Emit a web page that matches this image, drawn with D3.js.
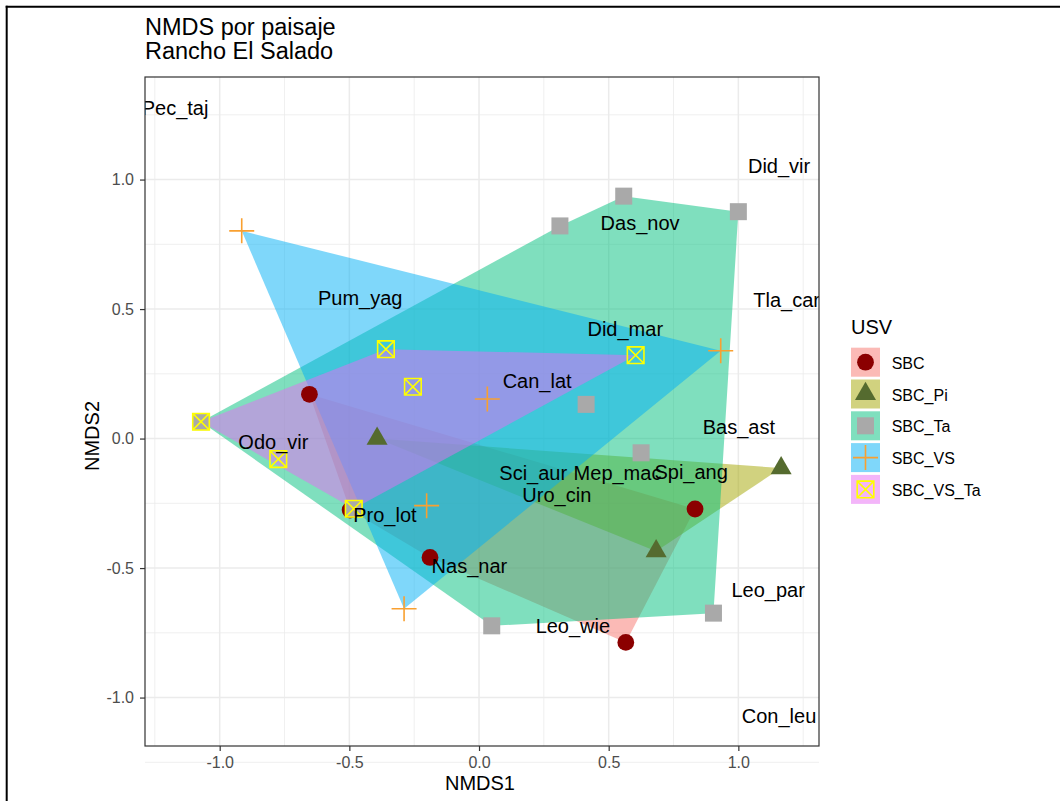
<!DOCTYPE html>
<html>
<head>
<meta charset="utf-8">
<script src="https://cdn.jsdelivr.net/npm/d3@7"></script>
<style>
  body { margin: 0; background: #fff; }
  svg { display: block; }
  text { font-family: "Liberation Sans", Arial, Helvetica, sans-serif; }
</style>
</head>
<body>
<svg id="chart" width="1060" height="801"></svg>
<script>
// Land-use groups (USV)
const groups = ["SBC", "SBC_Pi", "SBC_Ta", "SBC_VS", "SBC_VS_Ta"];

// Site scores
const siteGroup = [
  "SBC", "SBC", "SBC", "SBC", "SBC",
  "SBC_Pi", "SBC_Pi", "SBC_Pi",
  "SBC_Ta", "SBC_Ta", "SBC_Ta", "SBC_Ta", "SBC_Ta", "SBC_Ta", "SBC_Ta", "SBC_Ta", "SBC_Ta",
  "SBC_VS", "SBC_VS", "SBC_VS", "SBC_VS", "SBC_VS",
  "SBC_VS_Ta", "SBC_VS_Ta", "SBC_VS_Ta", "SBC_VS_Ta", "SBC_VS_Ta", "SBC_VS_Ta"
];
const siteNMDS1 = [
  -0.654, -0.497, -0.189, 0.833, 0.566,
  -0.393, 0.683, 1.165,
  0.312, 0.558, 1.000, 0.413, 0.625, 0.904, 0.049, -1.072, -0.483,
  -0.915, 0.932, 0.032, -0.202, -0.289,
  -0.359, -0.255, -1.072, -0.774, -0.483, 0.604
];
const siteNMDS2 = [
  0.171, -0.276, -0.459, -0.272, -0.787,
  0.000, -0.435, -0.114,
  0.821, 0.936, 0.876, 0.132, -0.055, -0.674, -0.723, 0.065, -0.271,
  0.802, 0.339, 0.153, -0.259, -0.657,
  0.345, 0.200, 0.065, -0.079, -0.271, 0.322
];

// Species scores
const speciesNames = [
  "Pec_taj", "Did_vir", "Das_nov", "Tla_car", "Pum_yag", "Did_mar", "Can_lat", "Bas_ast", "Odo_vir",
  "Sci_aur", "Mep_mac", "Spi_ang", "Uro_cin", "Pro_lot", "Nas_nar", "Leo_par", "Leo_wie", "Con_leu"
];
const speciesNMDS1 = [
  -1.172, 1.157, 0.621, 1.186, -0.458, 0.564, 0.224, 1.002, -0.793,
  0.209, 0.534, 0.818, 0.300, -0.363, -0.037, 1.115, 0.362, 1.157
];
const speciesNMDS2 = [
  1.276, 1.052, 0.832, 0.536, 0.542, 0.424, 0.223, 0.043, -0.015,
  -0.133, -0.133, -0.131, -0.217, -0.294, -0.493, -0.584, -0.723, -1.073
];

// Axis ticks
const majorTicks = [-1.0, -0.5, 0.0, 0.5, 1.0];
const minorTicks = [-1.25, -0.75, -0.25, 0.25, 0.75, 1.25];

// Styling per group
const hullFill = { SBC: "#F8766D", SBC_Pi: "#A3A500", SBC_Ta: "#00BF7D", SBC_VS: "#00B0F6", SBC_VS_Ta: "#E76BF3" };
const pointColour = { SBC: "#8B0000", SBC_Pi: "#556B2F", SBC_Ta: "#A9A9A9", SBC_VS: "#F9A030", SBC_VS_Ta: "#FFFF00" };

const svg = d3.select("#chart");
const panel = { left: 145, right: 819, top: 77, bottom: 746 };

const x = d3.scaleLinear().domain([-1.288, 1.311]).range([panel.left, panel.right]);
const y = d3.scaleLinear().domain([-1.187, 1.396]).range([panel.bottom, panel.top]);

// Outer frame (top and left edges)
svg.append("line").attr("x1", 5.7).attr("x2", 1060).attr("y1", 6.7).attr("y2", 6.7)
  .attr("stroke", "#000").attr("stroke-width", 2);
svg.append("line").attr("x1", 6.7).attr("x2", 6.7).attr("y1", 5.7).attr("y2", 801)
  .attr("stroke", "#000").attr("stroke-width", 2);

// Two-line title
const title = svg.append("text").attr("x", 145).attr("y", 35).attr("font-size", 23.5).attr("fill", "#000");
title.append("tspan").attr("x", 145).text("NMDS por paisaje");
title.append("tspan").attr("x", 145).attr("dy", 23.5).text("Rancho El Salado");

// Panel clip and grid
svg.append("defs").append("clipPath").attr("id", "panelClip")
  .append("rect").attr("x", panel.left).attr("y", panel.top)
  .attr("width", panel.right - panel.left).attr("height", panel.bottom - panel.top);

const grid = svg.append("g");
grid.selectAll(".vminor").data(minorTicks).join("line")
  .attr("x1", d => x(d)).attr("x2", d => x(d)).attr("y1", panel.top).attr("y2", panel.bottom)
  .attr("stroke", "#EBEBEB").attr("stroke-width", 0.8);
grid.selectAll(".hminor").data(minorTicks).join("line")
  .attr("y1", d => y(d)).attr("y2", d => y(d)).attr("x1", panel.left).attr("x2", panel.right)
  .attr("stroke", "#EBEBEB").attr("stroke-width", 0.8);
grid.selectAll(".vmajor").data(majorTicks).join("line")
  .attr("x1", d => x(d)).attr("x2", d => x(d)).attr("y1", panel.top).attr("y2", panel.bottom)
  .attr("stroke", "#EBEBEB").attr("stroke-width", 1.5);
grid.selectAll(".hmajor").data(majorTicks).join("line")
  .attr("y1", d => y(d)).attr("y2", d => y(d)).attr("x1", panel.left).attr("x2", panel.right)
  .attr("stroke", "#EBEBEB").attr("stroke-width", 1.5);

// Sites table
const sites = siteGroup.map((g, i) => ({ group: g, nmds1: siteNMDS1[i], nmds2: siteNMDS2[i] }));

// Convex hulls per group
const hullLayer = svg.append("g").attr("clip-path", "url(#panelClip)");
groups.forEach(g => {
  const pts = sites.filter(s => s.group === g).map(s => [x(s.nmds1), y(s.nmds2)]);
  const hull = d3.polygonHull(pts);
  if (!hull) return;
  hullLayer.append("path")
    .attr("d", "M" + hull.map(p => p.join(",")).join("L") + "Z")
    .attr("fill", hullFill[g]).attr("fill-opacity", 0.5).attr("stroke", "none");
});

// Point glyphs
function drawGlyph(sel, g, cx, cy) {
  const c = pointColour[g];
  if (g === "SBC") {
    sel.append("circle").attr("cx", cx).attr("cy", cy).attr("r", 8.4).attr("fill", c);
  } else if (g === "SBC_Pi") {
    const xc = 7.8;
    sel.append("path")
      .attr("d", `M${cx},${cy - 1.5551 * xc}L${cx + 1.3468 * xc},${cy + 0.7776 * xc}L${cx - 1.3468 * xc},${cy + 0.7776 * xc}Z`)
      .attr("fill", c);
  } else if (g === "SBC_Ta") {
    sel.append("rect").attr("x", cx - 8.5).attr("y", cy - 8.5).attr("width", 17).attr("height", 17).attr("fill", c);
  } else if (g === "SBC_VS") {
    sel.append("path").attr("d", `M${cx - 12.5},${cy}H${cx + 12.5}M${cx},${cy - 12.5}V${cy + 12.5}`)
      .attr("stroke", c).attr("stroke-width", 1.6).attr("fill", "none");
  } else {
    const h = 8.3;
    sel.append("path")
      .attr("d", `M${cx - h},${cy - h}H${cx + h}V${cy + h}H${cx - h}ZM${cx - h},${cy - h}L${cx + h},${cy + h}M${cx + h},${cy - h}L${cx - h},${cy + h}`)
      .attr("stroke", c).attr("stroke-width", 1.6).attr("fill", "none");
  }
}

const pointLayer = svg.append("g");
groups.forEach(g => {
  sites.filter(s => s.group === g).forEach(s => drawGlyph(pointLayer, g, x(s.nmds1), y(s.nmds2)));
});

// Species labels
const species = speciesNames.map((n, i) => ({ name: n, nmds1: speciesNMDS1[i], nmds2: speciesNMDS2[i] }));
svg.append("g").attr("clip-path", "url(#panelClip)")
  .selectAll("text").data(species).join("text")
  .attr("x", d => x(d.nmds1)).attr("y", d => y(d.nmds2)).attr("dy", "0.35em")
  .attr("text-anchor", "middle").attr("font-size", 20).attr("fill", "#000")
  .text(d => d.name);

// Panel border
svg.append("rect").attr("x", panel.left).attr("y", panel.top)
  .attr("width", panel.right - panel.left).attr("height", panel.bottom - panel.top)
  .attr("fill", "none").attr("stroke", "#333333").attr("stroke-width", 1.2);

// Axes
const fmt = d => d.toFixed(1);
const xAxis = svg.append("g").attr("transform", `translate(0,${panel.bottom})`)
  .call(d3.axisBottom(x).tickValues(majorTicks).tickFormat(fmt).tickSize(5).tickSizeOuter(0).tickPadding(5.5));
const yAxis = svg.append("g").attr("transform", `translate(${panel.left},0)`)
  .call(d3.axisLeft(y).tickValues(majorTicks).tickFormat(fmt).tickSize(5).tickSizeOuter(0).tickPadding(6));
[xAxis, yAxis].forEach(a => {
  a.select(".domain").remove();
  a.selectAll(".tick line").attr("stroke", "#333333").attr("stroke-width", 1.2);
  a.selectAll(".tick text").attr("fill", "#4D4D4D").attr("font-size", 16)
    .attr("font-family", "'Liberation Sans', Arial, Helvetica, sans-serif");
});

// Axis titles
svg.append("text").attr("x", 480).attr("y", 790)
  .attr("text-anchor", "middle").attr("font-size", 20).attr("fill", "#000").text("NMDS1");
svg.append("text").attr("transform", `translate(99,436) rotate(-90)`)
  .attr("text-anchor", "middle").attr("font-size", 20).attr("fill", "#000").text("NMDS2");

// Legend
const legend = svg.append("g");
legend.append("text").attr("x", 851).attr("y", 334.3).attr("font-size", 20).attr("fill", "#000").text("USV");
groups.forEach((g, i) => {
  const top = 347.7 + i * 31.8;
  const cy = top + 14.5;
  legend.append("rect").attr("x", 851).attr("y", top).attr("width", 29).attr("height", 29)
    .attr("fill", hullFill[g]).attr("fill-opacity", 0.5);
  drawGlyph(legend, g, 865.5, cy);
  legend.append("text").attr("x", 891.7).attr("y", cy + 6.5).attr("font-size", 16).attr("fill", "#000").text(g);
});
</script>
</body>
</html>
